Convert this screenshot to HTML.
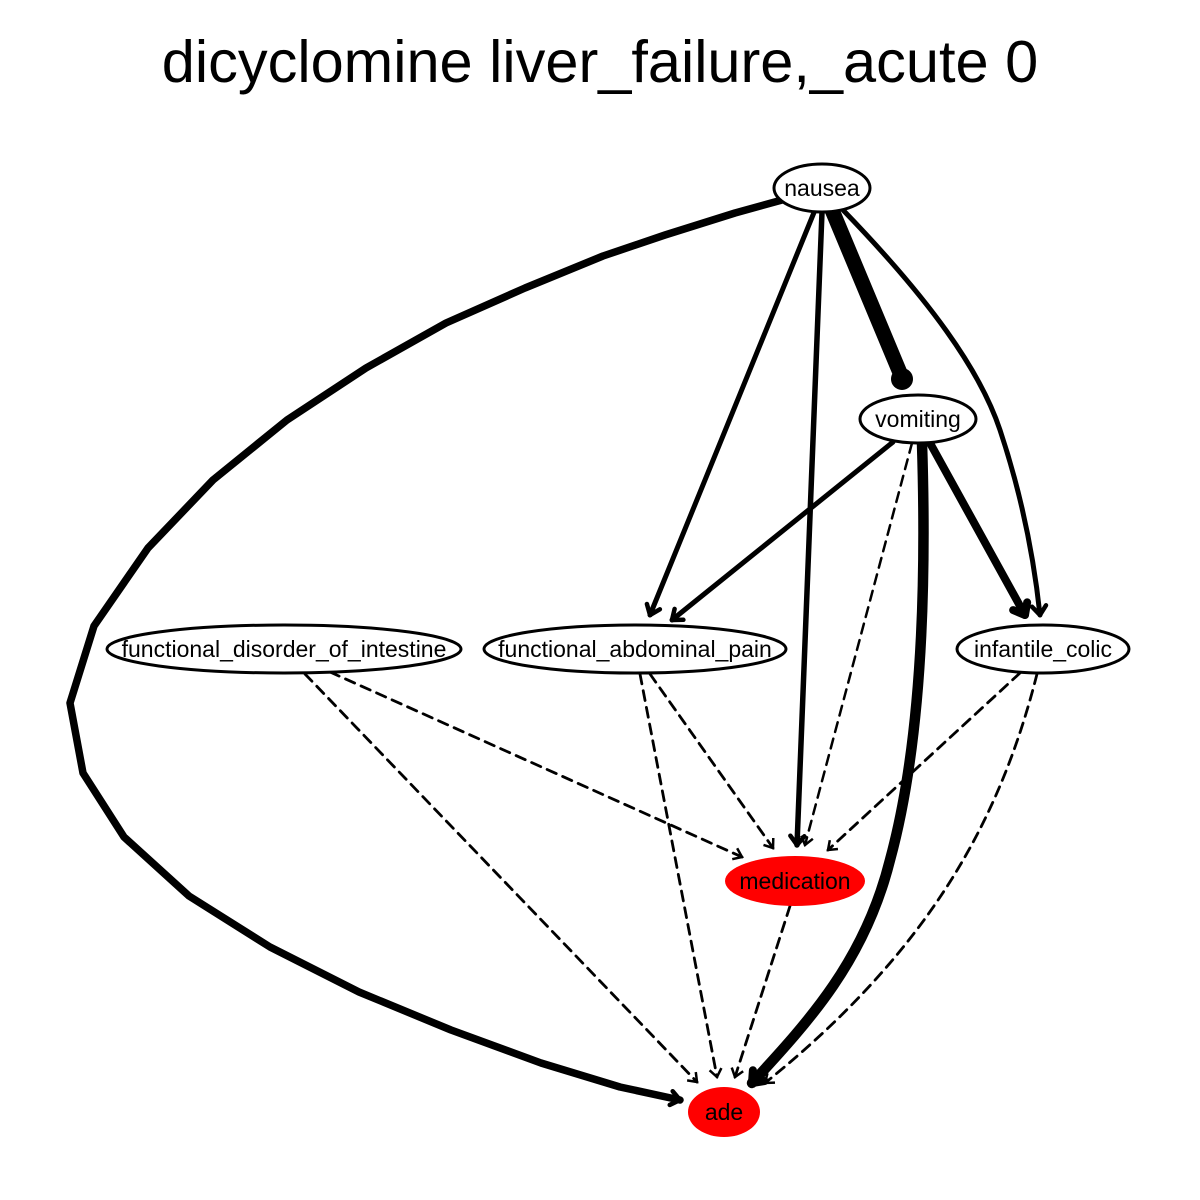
<!DOCTYPE html>
<html><head><meta charset="utf-8"><style>
html,body{margin:0;padding:0;background:#fff;}
svg{display:block;}
text{font-family:"Liberation Sans",sans-serif;}
</style></head><body>
<svg width="1200" height="1200" viewBox="0 0 1200 1200">
<defs>
<marker id="ah" markerUnits="userSpaceOnUse" markerWidth="20" markerHeight="20" refX="10" refY="10" orient="auto" viewBox="0 0 20 20">
<path d="M2,4 L10,10 L2,16" fill="none" stroke="#000" stroke-width="2.5"/>
</marker>
<marker id="ahm" markerUnits="userSpaceOnUse" markerWidth="24" markerHeight="24" refX="12" refY="12" orient="auto" viewBox="0 0 24 24">
<path d="M3,5 L12,12 L3,19" fill="none" stroke="#000" stroke-width="4.5" stroke-linecap="round" stroke-linejoin="round"/>
</marker>
<marker id="ahb" markerUnits="userSpaceOnUse" markerWidth="30" markerHeight="30" refX="15" refY="15" orient="auto" viewBox="0 0 30 30">
<path d="M5,7 L15,15 L5,23" fill="none" stroke="#000" stroke-width="8" stroke-linecap="round" stroke-linejoin="round"/>
</marker>
</defs>
<text x="600" y="82" text-anchor="middle" font-size="59.5">dicyclomine liver_failure,_acute 0</text>
<g fill="none" stroke="#000" stroke-linecap="round" stroke-linejoin="round">
<polyline stroke-width="7.5" marker-end="url(#ahm)" points="782,200 735,213 665,235 603,256 525,288 446,323 366,368 287,420 213,480 148,548 94,626 70,703 83,773 124,837 189,896 270,947 359,992 451,1030 541,1063 620,1087 680,1100"/>
<line x1="832" y1="210" x2="903" y2="380" stroke-width="15"/>
<circle cx="902" cy="379" r="11" fill="#000" stroke="none"/>
<line x1="815" y1="210" x2="650" y2="615" stroke-width="5" marker-end="url(#ahm)"/>
<line x1="822" y1="212" x2="797" y2="845" stroke-width="5.5" marker-end="url(#ahm)"/>
<path d="M843,210 C930,300 980,370 1000,430 C1020,490 1033,550 1040,615" stroke-width="5" marker-end="url(#ahm)"/>
<line x1="893" y1="442" x2="672" y2="620" stroke-width="5" marker-end="url(#ahm)"/>
<line x1="912" y1="443" x2="805" y2="845" stroke-width="2.5" stroke-dasharray="10,7" marker-end="url(#ah)"/>
<path d="M922,443 C927,600 920,750 890,860 C865,960 810,1020 752,1083" stroke-width="10.5" marker-end="url(#ahb)"/>
<line x1="930" y1="443" x2="1025" y2="615" stroke-width="8" marker-end="url(#ahb)"/>
<line x1="330" y1="672" x2="742" y2="857" stroke-width="2.8" stroke-dasharray="10,7" marker-end="url(#ah)"/>
<line x1="305" y1="674" x2="697" y2="1082" stroke-width="2.8" stroke-dasharray="10,7" marker-end="url(#ah)"/>
<line x1="650" y1="674" x2="773" y2="848" stroke-width="2.8" stroke-dasharray="10,7" marker-end="url(#ah)"/>
<line x1="640" y1="674" x2="717" y2="1077" stroke-width="2.8" stroke-dasharray="10,7" marker-end="url(#ah)"/>
<line x1="1020" y1="673" x2="828" y2="850" stroke-width="2.8" stroke-dasharray="10,7" marker-end="url(#ah)"/>
<path d="M1037,674 C1000,820 930,950 765,1083" stroke-width="2.8" stroke-dasharray="10,7" marker-end="url(#ah)"/>
<line x1="790" y1="906" x2="735" y2="1077" stroke-width="2.8" stroke-dasharray="10,7" marker-end="url(#ah)"/>
</g>
<g font-size="23" text-anchor="middle" stroke-width="3">
<g><ellipse cx="822" cy="188" rx="48" ry="24" fill="#fff" stroke="#000"/><text x="822" y="196">nausea</text></g>
<g><ellipse cx="918" cy="419" rx="58" ry="24" fill="#fff" stroke="#000"/><text x="918" y="427">vomiting</text></g>
<g><ellipse cx="284" cy="649" rx="177" ry="24" fill="#fff" stroke="#000"/><text x="284" y="657">functional_disorder_of_intestine</text></g>
<g><ellipse cx="635" cy="649" rx="151" ry="24" fill="#fff" stroke="#000"/><text x="635" y="657">functional_abdominal_pain</text></g>
<g><ellipse cx="1043" cy="649" rx="86" ry="24" fill="#fff" stroke="#000"/><text x="1043" y="657">infantile_colic</text></g>
<g><ellipse cx="795" cy="881" rx="70" ry="25" fill="#ff0000"/><text x="795" y="889">medication</text></g>
<g><ellipse cx="724" cy="1112" rx="36" ry="25" fill="#ff0000"/><text x="724" y="1120">ade</text></g>
</g>
</svg>
</body></html>
